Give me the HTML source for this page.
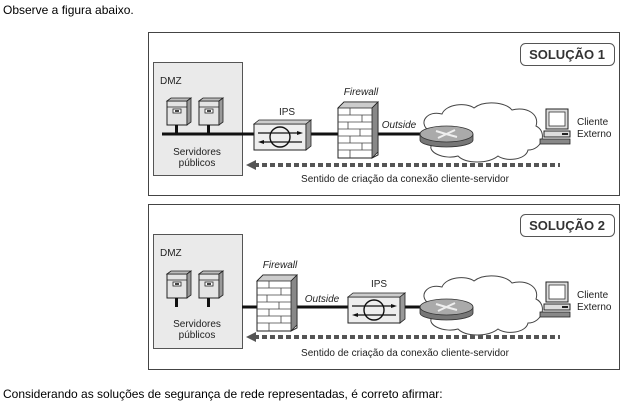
<!DOCTYPE html>
<html><head><meta charset="utf-8"><style>
body{margin:0;background:#fff;width:626px;height:407px;overflow:hidden;font-family:"Liberation Sans",sans-serif}
svg{position:absolute;left:0;top:0}
</style></head><body>
<svg width="626" height="407" viewBox="0 0 626 407" font-family="Liberation Sans, sans-serif">
<defs>
<g id="srv">
  <rect x="0" y="0" width="20" height="24" fill="#e4e4e4" stroke="#222" stroke-width="1"/>
  <polygon points="0,0 4,-3 24,-3 20,0" fill="#bbb" stroke="#222" stroke-width="0.8"/>
  <polygon points="20,0 24,-3 24,21 20,24" fill="#999" stroke="#222" stroke-width="0.8"/>
  <line x1="0" y1="6" x2="20" y2="6" stroke="#222" stroke-width="0.7"/>
  <rect x="6" y="8" width="8" height="4" fill="#fff" stroke="#222" stroke-width="0.8"/>
  <rect x="8" y="9" width="4" height="2" fill="#444"/>
  <rect x="8" y="24" width="3" height="9" fill="#111"/>
</g>
<g id="cloud">
  <path d="M428,130 C418,122 428,110 442,114 C446,104 466,102 474,108 C484,100 506,102 512,110 C526,106 540,114 536,126 C548,132 542,150 528,150 C526,160 506,162 498,156 C488,164 466,164 458,156 C444,160 426,152 432,144 C420,142 420,134 428,130 Z" fill="#fff" stroke="#444" stroke-width="1"/>
</g>
<g id="router">
  <path d="M420,134 L420,140 A26.5,7 0 0 0 473,140 L473,134" fill="#777" stroke="#333" stroke-width="0.8"/>
  <ellipse cx="446.5" cy="134" rx="26.5" ry="8" fill="#aaa" stroke="#333" stroke-width="0.8"/>
  <path d="M436,131 L446,134 L457,137 M438,138 L455,130" stroke="#eee" stroke-width="2" fill="none"/>
</g>
<g id="pc">
  <rect x="546" y="109" width="22" height="20" fill="#ddd" stroke="#222"/>
  <rect x="549" y="112" width="16" height="14" fill="#fff" stroke="#333" stroke-width="0.8"/>
  <rect x="544" y="131" width="26" height="6" fill="#ddd" stroke="#222"/>
  <rect x="562" y="133" width="6" height="2" fill="#222"/>
  <rect x="540" y="139" width="30" height="5" fill="#888" stroke="#222" stroke-width="0.8"/>
</g>
<g id="wall">
  <polygon points="0,8 6,2 40,2 40,55 34,58 0,58" fill="#fff" stroke="#222"/>
  <polygon points="0,8 6,2 40,2 34,8" fill="#ccc" stroke="#222" stroke-width="0.8"/>
  <polygon points="34,8 40,2 40,52 34,58" fill="#888" stroke="#222" stroke-width="0.8"/>
  <g stroke="#444" stroke-width="0.8">
    <line x1="0" y1="15" x2="34" y2="15"/><line x1="0" y1="22" x2="34" y2="22"/><line x1="0" y1="29" x2="34" y2="29"/><line x1="0" y1="36" x2="34" y2="36"/><line x1="0" y1="43" x2="34" y2="43"/><line x1="0" y1="50" x2="34" y2="50"/>
    <line x1="12" y1="8" x2="12" y2="15"/><line x1="24" y1="15" x2="24" y2="22"/><line x1="10" y1="22" x2="10" y2="29"/><line x1="22" y1="29" x2="22" y2="36"/><line x1="12" y1="36" x2="12" y2="43"/><line x1="24" y1="43" x2="24" y2="50"/><line x1="12" y1="50" x2="12" y2="58"/>
  </g>
</g>
<g id="ips">
  <rect x="0" y="4" width="52" height="26" fill="#eee" stroke="#222"/>
  <polygon points="0,4 5,0 57,0 52,4" fill="#ccc" stroke="#222" stroke-width="0.8"/>
  <polygon points="52,4 57,0 57,26 52,30" fill="#999" stroke="#222" stroke-width="0.8"/>
  <circle cx="26" cy="17" r="10" fill="none" stroke="#111" stroke-width="1.4"/>
  <line x1="4" y1="13" x2="46" y2="13" stroke="#111" stroke-width="1.2"/>
  <polygon points="49,13 43,11 43,15" fill="#111"/>
  <line x1="8" y1="22" x2="48" y2="22" stroke="#111" stroke-width="1.2"/>
  <polygon points="4,22 10,20 10,24" fill="#111"/>
</g>
<g id="arrow">
  <line x1="254" y1="0" x2="560" y2="0" stroke="#555" stroke-width="4" stroke-dasharray="5,3"/>
  <polygon points="246,0 256,-5 256,5" fill="#555"/>
</g>
</defs>

<text x="3" y="14" font-size="12" fill="#000">Observe a figura abaixo.</text>

<!-- Panel 1 -->
<rect x="148.5" y="32.5" width="471" height="163" fill="#fff" stroke="#444"/>
<rect x="520.5" y="43.5" width="94" height="22" rx="5" fill="#fff" stroke="#555"/>
<text x="567" y="59" font-size="13" font-weight="bold" text-anchor="middle" fill="#333">SOLUÇÃO 1</text>
<rect x="153.5" y="62.5" width="89" height="113" fill="#eaeaea" stroke="#555"/>
<text x="160" y="84" font-size="10" fill="#222">DMZ</text>
<use href="#srv" x="167" y="101"/>
<use href="#srv" x="199" y="101"/>
<line x1="162" y1="134" x2="420" y2="134" stroke="#111" stroke-width="3"/>
<text x="197" y="155" font-size="10" text-anchor="middle" fill="#222">Servidores</text>
<text x="197" y="166" font-size="10" text-anchor="middle" fill="#222">públicos</text>
<text x="287" y="115" font-size="10" text-anchor="middle" fill="#222">IPS</text>
<use href="#ips" x="254" y="120"/>
<text x="361" y="95" font-size="10" font-style="italic" text-anchor="middle" fill="#222">Firewall</text>
<use href="#wall" x="338" y="100"/>
<text x="399" y="128" font-size="10" font-style="italic" text-anchor="middle" fill="#222">Outside</text>
<use href="#cloud"/>
<use href="#router"/>
<use href="#pc"/>
<text x="577" y="125" font-size="10" fill="#222">Cliente</text>
<text x="577" y="137" font-size="10" fill="#222">Externo</text>
<use href="#arrow" y="165"/>
<text x="405" y="182" font-size="10" text-anchor="middle" fill="#222">Sentido de criação da conexão cliente-servidor</text>

<!-- Panel 2 -->
<rect x="148.5" y="204.5" width="471" height="165" fill="#fff" stroke="#444"/>
<rect x="520.5" y="214.5" width="94" height="22" rx="5" fill="#fff" stroke="#555"/>
<text x="567" y="230" font-size="13" font-weight="bold" text-anchor="middle" fill="#333">SOLUÇÃO 2</text>
<rect x="153.5" y="234.5" width="89" height="114" fill="#eaeaea" stroke="#555"/>
<text x="160" y="256" font-size="10" fill="#222">DMZ</text>
<use href="#srv" x="167" y="274"/>
<use href="#srv" x="199" y="274"/>
<line x1="242" y1="307" x2="420" y2="307" stroke="#111" stroke-width="3"/>
<text x="197" y="327" font-size="10" text-anchor="middle" fill="#222">Servidores</text>
<text x="197" y="338" font-size="10" text-anchor="middle" fill="#222">públicos</text>
<text x="280" y="268" font-size="10" font-style="italic" text-anchor="middle" fill="#222">Firewall</text>
<use href="#wall" x="257" y="273"/>
<text x="322" y="302" font-size="10" font-style="italic" text-anchor="middle" fill="#222">Outside</text>
<text x="379" y="287" font-size="10" text-anchor="middle" fill="#222">IPS</text>
<use href="#ips" x="348" y="293"/>
<g transform="translate(0,173)">
<use href="#cloud"/>
<use href="#router"/>
<use href="#pc"/>
</g>
<text x="577" y="298" font-size="10" fill="#222">Cliente</text>
<text x="577" y="310" font-size="10" fill="#222">Externo</text>
<use href="#arrow" y="337"/>
<text x="405" y="356" font-size="10" text-anchor="middle" fill="#222">Sentido de criação da conexão cliente-servidor</text>

<text x="3" y="398" font-size="12" fill="#000">Considerando as soluções de segurança de rede representadas, é correto afirmar:</text>
</svg>
</body></html>
